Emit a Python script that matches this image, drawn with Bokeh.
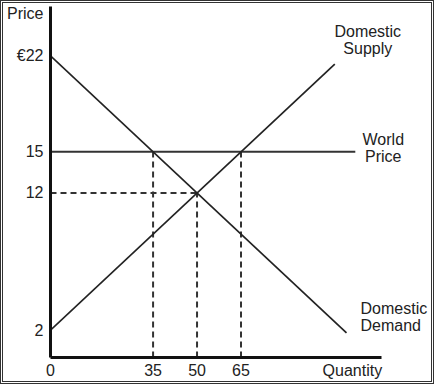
from bokeh.plotting import figure
from bokeh.models import Range1d, FixedTicker, Label
from bokeh.embed import file_html
from bokeh.resources import INLINE

# ---- data ----
demand_q = [0, 101]
demand_p = [22, 1.8]
supply_q = [0, 97]
supply_p = [2, 21.4]
world_q = [0, 104]
world_p = [15, 15]

eq_q, eq_p = 50, 12
world_price = 15
q_demanded_world = 35
q_supplied_world = 65

y_ticks = [2, 12, 15, 22, 25.1]
y_tick_labels = ["2", "12", "15", "€22", "Price"]
x_ticks = [0, 35, 50, 65, 103]
x_tick_labels = ["0", "35", "50", "65", "Quantity"]
x_axis_end = 113

FONT = "Liberation Sans"
INK = "#222222"
FS = "16px"

p = figure(width=434, height=384, x_range=Range1d(0, 130), y_range=Range1d(0, 25.6),
           output_backend="svg", toolbar_location=None,
           min_border_left=47, min_border_right=6, min_border_top=3, min_border_bottom=30)
p.styles = {"border": "3px double #333"}
p.outline_line_color = None
p.xgrid.visible = False
p.ygrid.visible = False
p.background_fill_color = "white"

for ax in (p.xaxis[0], p.yaxis[0]):
    ax.axis_line_width = 3
    ax.axis_line_color = "#111111"
    ax.major_tick_line_color = None
    ax.minor_tick_line_color = None
    ax.major_tick_out = 0
    ax.major_tick_in = 0
    ax.minor_tick_out = 0
    ax.major_label_text_font = FONT
    ax.major_label_text_font_size = FS
    ax.major_label_text_color = INK

p.yaxis.ticker = FixedTicker(ticks=y_ticks)
p.yaxis.major_label_overrides = {t: s for t, s in zip(y_ticks, y_tick_labels)}
p.yaxis.major_label_standoff = 7
p.xaxis.ticker = FixedTicker(ticks=x_ticks)
p.xaxis.major_label_overrides = {t: s for t, s in zip(x_ticks, x_tick_labels)}
p.xaxis.major_label_standoff = 4
p.xaxis.bounds = (0, x_axis_end)

# dashed guides
p.segment(x0=[0, q_demanded_world, eq_q, q_supplied_world],
          y0=[eq_p, 0, 0, 0],
          x1=[eq_q, q_demanded_world, eq_q, q_supplied_world],
          y1=[eq_p, world_price, eq_p, world_price],
          line_color="#333333", line_width=2, line_dash="6 4")

# curves
p.line(world_q, world_p, line_color="#333333", line_width=2)
p.line(demand_q, demand_p, line_color=INK, line_width=1.7)
p.line(supply_q, supply_p, line_color=INK, line_width=1.7)

def lab(x, y, text, align, xo=0, yo=0):
    p.add_layout(Label(x=x, y=y, text=text, text_font=FONT, text_font_size=FS,
                       text_color=INK, text_align=align, text_baseline="middle",
                       x_offset=xo, y_offset=yo, text_line_height=1.0))

lab(supply_q[-1], supply_p[-1], "Domestic\nSupply", "center", 33, 24)
lab(world_q[-1], world_p[-1], "World\nPrice", "center", 28, 4)
lab(demand_q[-1], demand_p[-1], "Domestic\nDemand", "left", 14, 16)

open("out.html", "w").write(file_html(p, INLINE))
